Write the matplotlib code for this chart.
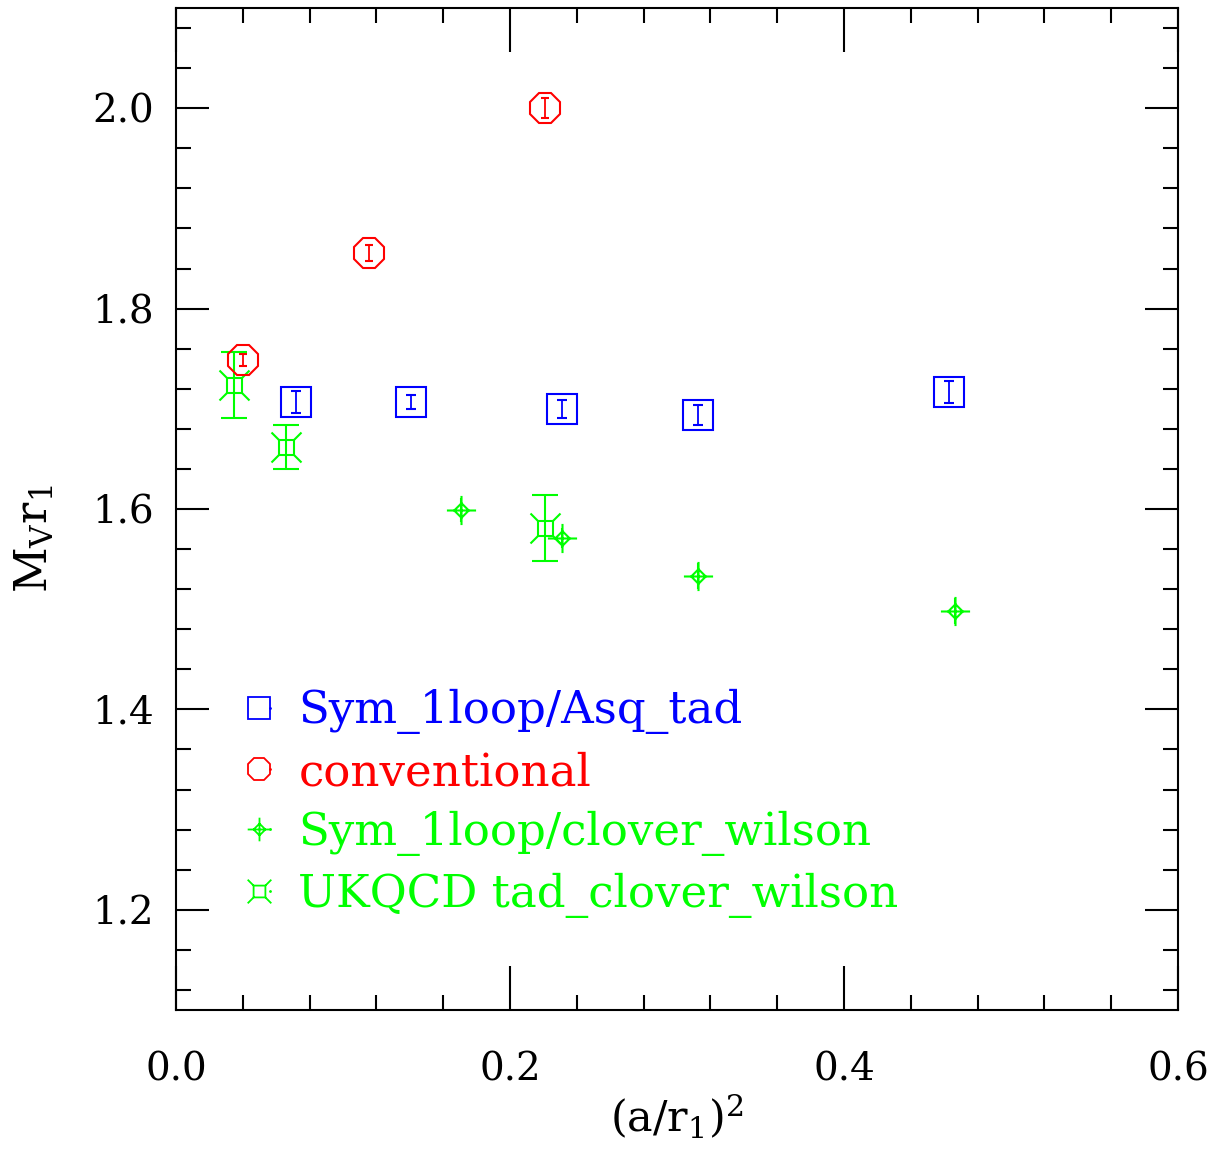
import numpy as np
import matplotlib
matplotlib.use("Agg")
import matplotlib.pyplot as plt
from matplotlib.path import Path
from matplotlib.lines import Line2D
from matplotlib.legend_handler import HandlerTuple
from matplotlib.ticker import MultipleLocator

plt.rcParams.update({
    "font.family": "DejaVu Serif",
    "mathtext.fontset": "dejavuserif",
    "axes.linewidth": 1.5,
})

BLUE = "#0000ff"
RED = "#ff0000"
GREEN = "#00ff00"

# Sym_1loop/Asq_tad
asq_x = [0.0719, 0.1407, 0.2311, 0.3126, 0.4629]
asq_y = [1.707, 1.707, 1.700, 1.694, 1.717]
asq_e = [0.011, 0.007, 0.009, 0.010, 0.011]

# conventional
conv_x = [0.0401, 0.1156, 0.2210]
conv_y = [1.749, 1.856, 2.000]
conv_e = [0.006, 0.008, 0.010]

# Sym_1loop/clover_wilson
clov_x = [0.1707, 0.2311, 0.3126, 0.4665]
clov_y = [1.599, 1.571, 1.533, 1.498]
clov_e = [0.012, 0.010, 0.013, 0.013]

# UKQCD tad_clover_wilson
ukq_x = [0.0347, 0.0659, 0.2210]
ukq_y = [1.724, 1.662, 1.581]
ukq_e = [0.033, 0.022, 0.033]

labels = ["Sym_1loop/Asq_tad", "conventional",
          "Sym_1loop/clover_wilson", "UKQCD tad_clover_wilson"]

# custom symbols: diamond with a cross, square with corner spikes
diamond_cross = Path(
    [(0.5, 0), (0, 0.5), (-0.5, 0), (0, -0.5), (0.5, 0),
     (-1, 0), (1, 0), (0, -1), (0, 1)],
    [Path.MOVETO, Path.LINETO, Path.LINETO, Path.LINETO, Path.LINETO,
     Path.MOVETO, Path.LINETO, Path.MOVETO, Path.LINETO])
square_spikes = Path(
    [(-0.5, -0.5), (0.5, -0.5), (0.5, 0.5), (-0.5, 0.5), (-0.5, -0.5),
     (0.5, 0.5), (1, 1), (-0.5, 0.5), (-1, 1),
     (-0.5, -0.5), (-1, -1), (0.5, -0.5), (1, -1)],
    [Path.MOVETO, Path.LINETO, Path.LINETO, Path.LINETO, Path.LINETO,
     Path.MOVETO, Path.LINETO, Path.MOVETO, Path.LINETO,
     Path.MOVETO, Path.LINETO, Path.MOVETO, Path.LINETO])

fig = plt.figure(figsize=(12.17, 11.52), dpi=100)
ax = fig.add_axes([0.1446, 0.1233, 0.8233, 0.8697])

ax.errorbar(asq_x, asq_y, yerr=asq_e, fmt="s", ms=22, mfc="none", mec=BLUE,
            mew=1.5, ecolor=BLUE, elinewidth=1.3, capsize=3.5, capthick=1.3)
ax.errorbar(conv_x, conv_y, yerr=conv_e, fmt="8", ms=23, mfc="none", mec=RED,
            mew=1.5, ecolor=RED, elinewidth=1.3, capsize=3, capthick=1.3)
ax.errorbar(clov_x, clov_y, yerr=clov_e, fmt="none", ecolor=GREEN,
            elinewidth=1.5, capsize=0)
ax.plot(clov_x, clov_y, ls="none", marker=diamond_cross, ms=21, mfc="none",
        mec=GREEN, mew=1.5)
ax.errorbar(ukq_x, ukq_y, yerr=ukq_e, fmt="none", ecolor=GREEN,
            elinewidth=1.5, capsize=9.5, capthick=1.5)
ax.plot(ukq_x, ukq_y, ls="none", marker=square_spikes, ms=21.6, mfc="none",
        mec=GREEN, mew=1.5)

ax.set_xlim(0.0, 0.6)
ax.set_ylim(1.1, 2.1)
ax.xaxis.set_major_locator(MultipleLocator(0.2))
ax.xaxis.set_minor_locator(MultipleLocator(0.04))
ax.yaxis.set_major_locator(MultipleLocator(0.2))
ax.yaxis.set_minor_locator(MultipleLocator(0.04))
ax.xaxis.set_major_formatter(plt.FormatStrFormatter("%.1f"))
ax.yaxis.set_major_formatter(plt.FormatStrFormatter("%.1f"))
ax.tick_params(which="both", direction="in", top=True, right=True,
               width=1.5, labelsize=28)
ax.tick_params(axis="x", which="major", length=32, pad=30)
ax.tick_params(axis="y", which="major", length=24, pad=16)
ax.tick_params(which="minor", length=11)

ax.set_xlabel(r"$\mathrm{(a/r_1)^2}$", fontsize=31)
ax.xaxis.set_label_coords(0.5, -0.083)
ax.set_ylabel(r"$\mathrm{M_V r_1}$", fontsize=32)
ax.yaxis.set_label_coords(-0.12, 0.47)

# legend with small centre dot, like the original
def entry(marker, color, ms):
    sym = Line2D([], [], ls="none", marker=marker, ms=ms, mfc="none",
                 mec=color, mew=1.3)
    dot = Line2D([], [], ls="none", marker=".", ms=2, color=color)
    return (sym, dot)

handles = [entry("s", BLUE, 16), entry("8", RED, 17),
           entry(diamond_cross, GREEN, 17), entry(square_spikes, GREEN, 17)]
ax.legend(handles, labels, loc="center left", bbox_to_anchor=(0.077, 0.206),
          frameon=False, fontsize=32.5, handlelength=0.5, handletextpad=0.5,
          labelspacing=0.37, borderpad=0, borderaxespad=0,
          labelcolor=[BLUE, RED, GREEN, GREEN],
          handler_map={tuple: HandlerTuple(ndivide=None, pad=0)})

fig.savefig("out.png", dpi=100)
